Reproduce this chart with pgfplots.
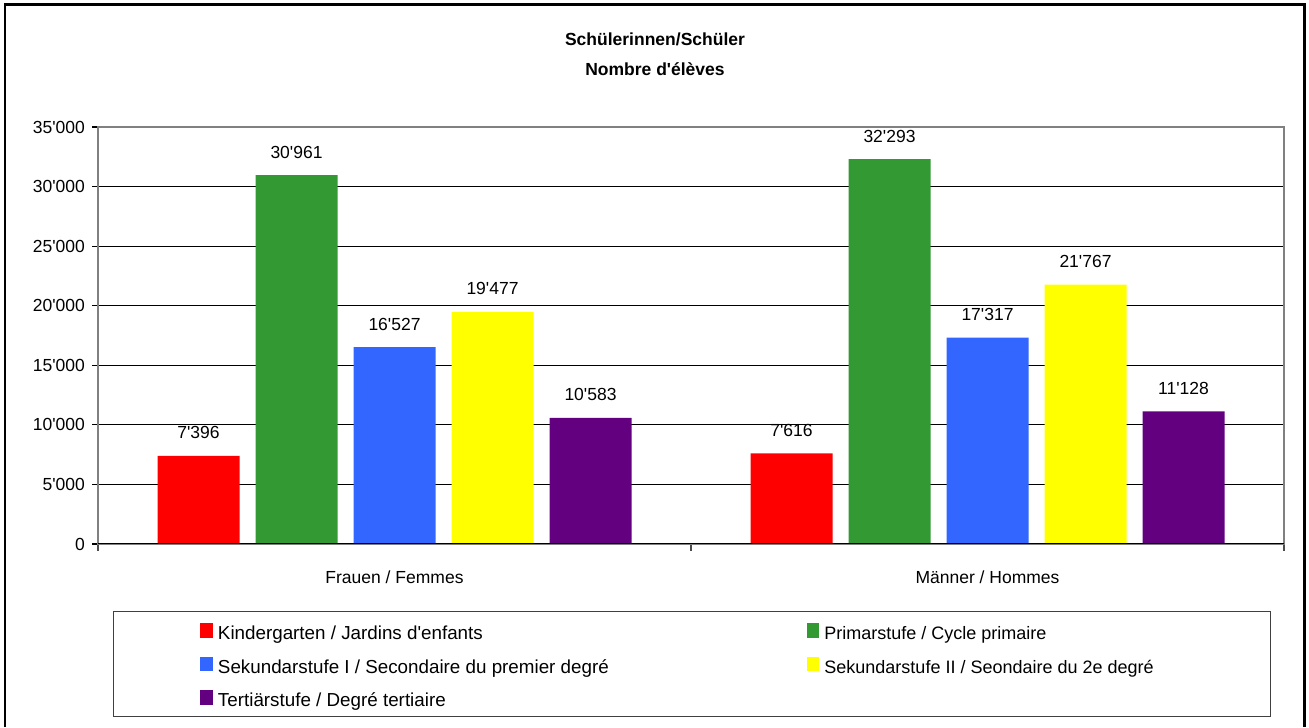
\documentclass[border=0pt]{standalone}
\usepackage{fontspec}
\setmainfont{Liberation Sans}
\usepackage{pgfplots}
\pgfplotsset{compat=1.18}

\definecolor{kgred}{RGB}{255,0,0}
\definecolor{prgreen}{RGB}{51,153,51}
\definecolor{s1blue}{RGB}{51,102,255}
\definecolor{s2yellow}{RGB}{255,255,0}
\definecolor{tepurple}{RGB}{99,0,128}

\newcommand{\chartfont}{\fontsize{8.75}{10.5}\selectfont}
\newcommand{\legfont}{\fontsize{9.4}{11}\selectfont}
\newcommand{\legfontb}{\fontsize{9}{11}\selectfont}

\begin{document}
\begin{tikzpicture}[font=\chartfont]
% page frame, in pixels of the reference (1 px = 0.5 pt)
\begin{scope}[x=0.5pt,y=0.5pt]
  \path[use as bounding box] (0,0) rectangle (1309,727);
  \draw[line width=1.3pt] (5,0) -- (5,722.5) -- (1304.5,722.5) -- (1304.5,0);
  \node[font=\chartfont\bfseries, anchor=base] at (655,681) {Schülerinnen/Schüler};
  \node[font=\chartfont\bfseries, anchor=base] at (655,651) {Nombre d\textquotesingle élèves};
  \draw[black!75, line width=0.5pt] (113,11) rectangle (1270,115);
\end{scope}

\begin{axis}[
    at={(49pt,91.5pt)},
    anchor=south west,
    scale only axis,
    width=593pt,
    height=208.5pt,
    ybar=8pt,
    bar width=41pt,
    xmin=-0.5, xmax=1.5,
    ymin=0, ymax=35000,
    xtick={0,1},
    xticklabels={Frauen / Femmes, Männer / Hommes},
    minor xtick={-0.5,0.5,1.5},
    major x tick style={draw=none},
    minor x tick style={black!70, line width=0.8pt},
    minor tick length=3.5pt,
    ytick={0,5000,...,35000},
    major tick length=3pt,
    tick align=outside,
    xtick pos=bottom,
    ytick pos=left,
    y tick style={black, line width=0.6pt},
    scaled y ticks=false,
    yticklabel style={/pgf/number format/.cd, 1000 sep={\textquotesingle}, assume math mode=true},
    xticklabel style={yshift=-7pt},
    ymajorgrids,
    grid style={black, line width=0.5pt},
    axis line style={draw=black!50, line width=1pt},
    nodes near coords,
    every node near coord/.append style={anchor=base, yshift=8.5pt,
      /pgf/number format/1000 sep={\textquotesingle},
      /pgf/number format/assume math mode=true},
    legend columns=2,
    legend image code/.code={\fill[#1] (0pt,-1.5pt) rectangle (6.3pt,5.7pt);},
    legend style={
      at={(0.086,-0.1894)}, anchor=north west,
      draw=none, fill=none, inner sep=0pt,
      row sep=6.5pt,
      nodes={inner sep=0pt, text height=7pt, text depth=2pt, font=\legfont},
      /tikz/every odd column/.append style={column sep=2.5pt},
      /tikz/every even column/.append style={column sep=99pt},
    },
    legend cell align=left,
  ]
  \addplot[fill=kgred, draw=none] coordinates {(0,7396) (1,7616)};
  \addplot[fill=prgreen, draw=none] coordinates {(0,30961) (1,32293)};
  \addplot[fill=s1blue, draw=none] coordinates {(0,16527) (1,17317)};
  \addplot[fill=s2yellow, draw=none] coordinates {(0,19477) (1,21767)};
  \addplot[fill=tepurple, draw=none] coordinates {(0,10583) (1,11128)};
  \legend{Kindergarten / Jardins d\textquotesingle enfants,
          {\legfontb Primarstufe / Cycle primaire},
          Sekundarstufe I / Secondaire du premier degré,
          {\legfontb Sekundarstufe II / Seondaire du 2e degré},
          Tertiärstufe / Degré tertiaire}
  \draw[black, line width=0.75pt] (rel axis cs:0,0) -- (rel axis cs:1,0);
\end{axis}
\end{tikzpicture}
\end{document}
